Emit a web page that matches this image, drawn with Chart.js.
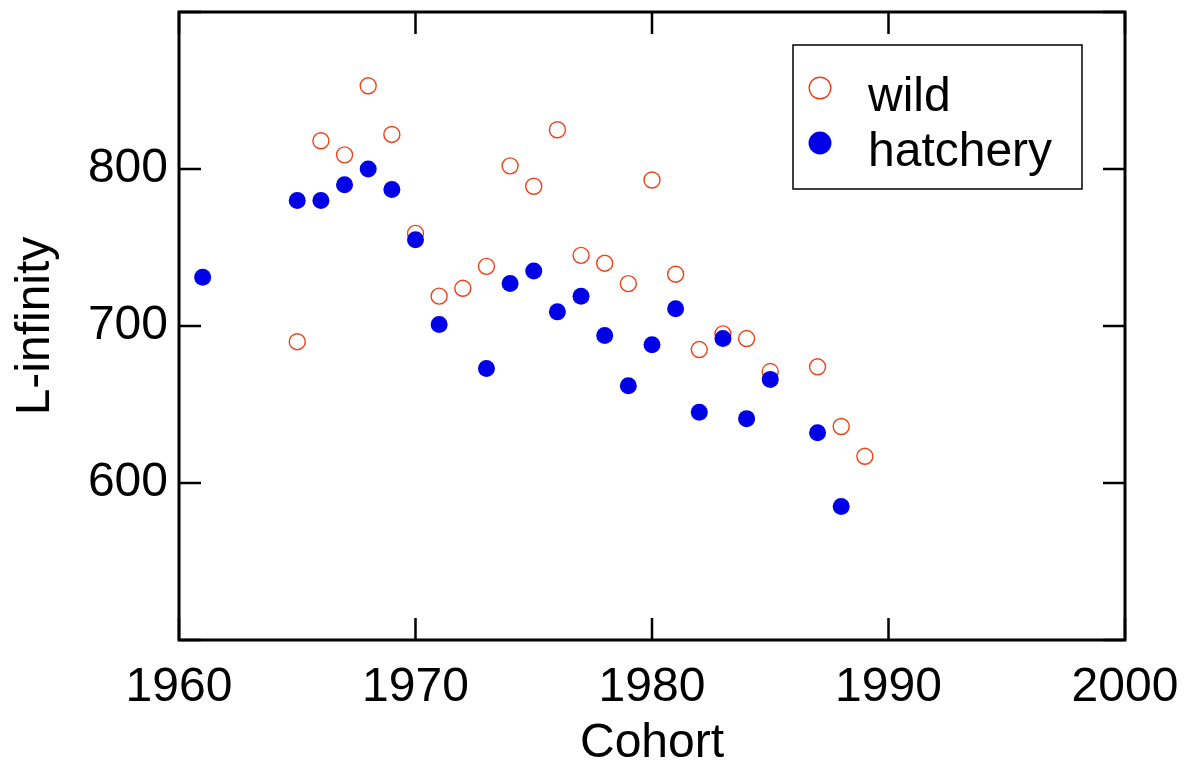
<!DOCTYPE html>
<html>
<head>
<meta charset="utf-8">
<script src="https://cdn.jsdelivr.net/npm/chart.js@4"></script>
<style>
  html, body { margin: 0; padding: 0; background: #fff; }
  #wrap { width: 1195px; height: 771px; }
</style>
</head>
<body>
<div id="wrap"><canvas id="chart" width="1195" height="771"></canvas></div>
<script>
// data
const wildYears = [1965, 1966, 1967, 1968, 1969, 1970, 1971, 1972, 1973, 1974, 1975, 1976,
  1977, 1978, 1979, 1980, 1981, 1982, 1983, 1984, 1985, 1987, 1988, 1989];
const wildValues = [690, 818, 809, 853, 822, 759, 719, 724, 738, 802, 789, 825,
  745, 740, 727, 793, 733, 685, 695, 692, 671, 674, 636, 617];

const hatcheryYears = [1961, 1965, 1966, 1967, 1968, 1969, 1970, 1971, 1973, 1974, 1975, 1976,
  1977, 1978, 1979, 1980, 1981, 1982, 1983, 1984, 1985, 1987, 1988];
const hatcheryValues = [731, 780, 780, 790, 800, 787, 755, 701, 673, 727, 735, 709,
  719, 694, 662, 688, 711, 645, 692, 641, 666, 632, 585];

const xTicks = [1960, 1970, 1980, 1990, 2000];
const yTicks = [500, 600, 700, 800, 900];
const yLabels = ['', '600', '700', '800', ''];

const FONT = "'Liberation Sans', Arial, sans-serif";
const WILD_COLOR = 'rgb(240,64,24)';
const HATCH_COLOR = 'rgb(0,0,232)';

const pts = (xs, ys) => xs.map((x, i) => ({ x: x, y: ys[i] }));

// frame, inside ticks on all four sides, and the boxed legend
const framePlugin = {
  id: 'frame',
  afterDraw(chart) {
    const { ctx, chartArea: a, scales } = chart;
    const len = 22;
    ctx.save();
    ctx.strokeStyle = '#000';
    ctx.lineWidth = 3;
    ctx.strokeRect(a.left, a.top, a.right - a.left, a.bottom - a.top);
    ctx.lineWidth = 2.5;
    ctx.beginPath();
    yTicks.forEach(v => {
      const y = scales.y.getPixelForValue(v);
      ctx.moveTo(a.left, y); ctx.lineTo(a.left + len, y);
      ctx.moveTo(a.right, y); ctx.lineTo(a.right - len, y);
    });
    xTicks.forEach(v => {
      const x = scales.x.getPixelForValue(v);
      ctx.moveTo(x, a.bottom); ctx.lineTo(x, a.bottom - len);
      ctx.moveTo(x, a.top); ctx.lineTo(x, a.top + len);
    });
    ctx.stroke();

    // legend (markers drawn a bit larger than in the plot)
    const bx = a.right - 332, by = a.top + 33, bw = 289, bh = 144;
    ctx.fillStyle = '#fff';
    ctx.fillRect(bx, by, bw, bh);
    ctx.lineWidth = 1.5;
    ctx.strokeRect(bx, by, bw, bh);
    const items = chart.data.datasets.slice().sort((p, q) => q.order - p.order);
    items.forEach((ds, i) => {
      const cy = by + 43 + i * 55;
      ctx.beginPath();
      ctx.arc(bx + 27, cy, ds.pointRadius * 1.35, 0, Math.PI * 2);
      if (ds.pointBackgroundColor !== 'rgba(0,0,0,0)') {
        ctx.fillStyle = ds.pointBackgroundColor;
        ctx.fill();
      } else {
        ctx.strokeStyle = ds.pointBorderColor;
        ctx.lineWidth = ds.pointBorderWidth;
        ctx.stroke();
      }
      ctx.fillStyle = '#000';
      ctx.font = '48px ' + FONT;
      ctx.textBaseline = 'alphabetic';
      ctx.fillText(ds.label, bx + 75, cy + 23);
    });
    ctx.restore();
  }
};

new Chart(document.getElementById('chart'), {
  type: 'scatter',
  data: {
    datasets: [
      {
        label: 'hatchery',
        data: pts(hatcheryYears, hatcheryValues),
        order: 0,
        pointRadius: 8.5,
        pointBackgroundColor: HATCH_COLOR,
        pointBorderColor: HATCH_COLOR,
        pointBorderWidth: 0,
        pointHoverRadius: 8.5
      },
      {
        label: 'wild',
        data: pts(wildYears, wildValues),
        order: 1,
        pointRadius: 8,
        pointBackgroundColor: 'rgba(0,0,0,0)',
        pointBorderColor: WILD_COLOR,
        pointBorderWidth: 1.4,
        pointHoverRadius: 8
      }
    ]
  },
  options: {
    responsive: false,
    animation: false,
    layout: { padding: { top: 12, right: 70, left: 0, bottom: 0 } },
    plugins: { legend: { display: false }, tooltip: { enabled: false } },
    scales: {
      x: {
        type: 'linear',
        min: 1960, max: 2000,
        afterBuildTicks: s => { s.ticks = xTicks.map(v => ({ value: v })); },
        afterFit: s => { s.height = 131; s.paddingLeft = 0; s.paddingRight = 0; },
        grid: { display: false, drawTicks: false },
        border: { display: false },
        ticks: {
          color: '#000', padding: 19,
          font: { family: FONT, size: 48 },
          callback: v => String(v),
          maxRotation: 0, autoSkip: false
        },
        title: {
          display: true, text: 'Cohort', color: '#000',
          font: { family: FONT, size: 48, lineHeight: 1 },
          padding: { top: 0, bottom: 3 }
        }
      },
      y: {
        type: 'linear',
        min: 500, max: 900,
        afterBuildTicks: s => { s.ticks = yTicks.map(v => ({ value: v })); },
        afterFit: s => { s.width = 179; s.paddingTop = 0; s.paddingBottom = 0; },
        grid: { display: false, drawTicks: false },
        border: { display: false },
        ticks: {
          color: '#000', padding: 11,
          font: { family: FONT, size: 48 },
          callback: v => yLabels[yTicks.indexOf(v)],
          autoSkip: false
        },
        title: {
          display: true, text: 'L-infinity', color: '#000',
          font: { family: FONT, size: 48, lineHeight: 1 },
          padding: { top: 12, bottom: 0 }
        }
      }
    }
  },
  plugins: [framePlugin]
});
</script>
</body>
</html>
